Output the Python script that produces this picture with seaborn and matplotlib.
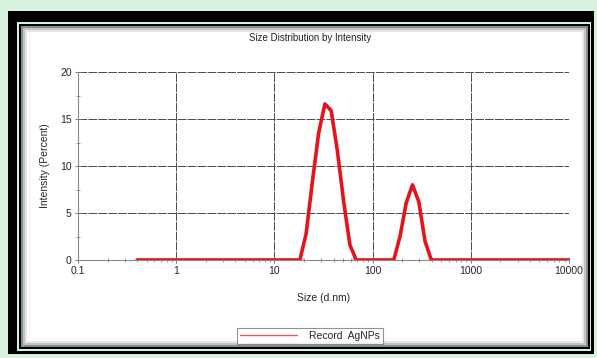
import matplotlib
matplotlib.use("Agg")
import matplotlib.pyplot as plt
import matplotlib.ticker as mticker
from matplotlib.patches import Rectangle
from matplotlib.lines import Line2D
import seaborn as sns
import pandas as pd

# --- data ---
size_nm = [0.4, 18.17, 21.04, 24.36, 28.21, 32.67, 37.84, 43.82, 50.75, 58.77,
           68.06, 164.2, 190.1, 220.2, 255.0, 295.3, 342.0, 396.1, 10000]
intensity = [0, 0, 2.8, 8.3, 13.5, 16.6, 15.9, 11.6, 6.2, 1.6,
             0, 0, 2.5, 6.1, 8.0, 6.2, 2.0, 0, 0]
x_ticks = [0.1, 1, 10, 100, 1000, 10000]
x_tick_labels = ["0.1", "1", "10", "100", "1000", "10000"]
y_ticks = [0, 5, 10, 15, 20]

sns.set_theme(style="white")
plt.rcParams['font.family'] = ['Liberation Sans', 'DejaVu Sans']

W, H = 597, 358
fig = plt.figure(figsize=(W / 100, H / 100), dpi=100)
fig.patch.set_facecolor('#d8f2df')


def box(x0, y0, x1, y1, color):
    # pixel box -> figure fraction, drawn behind the axes
    r = Rectangle((x0 / W, 1 - y1 / H), (x1 - x0) / W, (y1 - y0) / H,
                  transform=fig.transFigure, facecolor=color,
                  edgecolor='none', zorder=-10)
    fig.patches.append(r)


# screenshot frame
box(8, 11, 594, 354, 'black')
box(17, 22, 591, 351, '#d4f0de')
box(19, 24, 590, 349, 'black')
box(21, 26, 588, 347, '#8c8c8c')
box(23, 28, 586, 345, '#c4c4c4')
box(25, 30, 584, 343, '#e6e6e6')
box(27, 32, 582, 341, 'white')

ax = fig.add_axes([78 / W, 1 - 260 / H, (569 - 78) / W, (260 - 72) / H])
ax.set_zorder(5)
ax.set_facecolor('white')

df = pd.DataFrame({'Size': size_nm, 'Intensity': intensity})
sns.lineplot(data=df, x='Size', y='Intensity', ax=ax, color='#e3141b',
             linewidth=2.6, sort=False, estimator=None, legend=False)

ax.set_xscale('log')
ax.set_xlim(0.1, 10000)
ax.set_ylim(0, 20)
ax.set_xticks(x_ticks)
ax.set_xticklabels(x_tick_labels)
ax.set_yticks(y_ticks)
ax.xaxis.set_minor_locator(mticker.LogLocator(base=10, subs=range(2, 10)))
ax.xaxis.set_minor_formatter(mticker.NullFormatter())
ax.yaxis.set_minor_locator(mticker.MultipleLocator(2.5))

ax.tick_params(axis='both', which='major', direction='inout', length=5,
               width=0.7, color='#777777', labelsize=7.5, pad=2)
ax.tick_params(axis='both', which='minor', direction='inout', length=3,
               width=0.6, color='#888888')
ax.tick_params(axis='x', which='both', bottom=True)
ax.tick_params(axis='y', which='both', left=True)

ax.grid(True, which='major', color='#4a4a4a', linestyle=(0, (9, 1.2)),
        linewidth=0.7)
for s in ['top', 'right']:
    ax.spines[s].set_visible(False)
for s in ['left', 'bottom']:
    ax.spines[s].set_color('#888888')
    ax.spines[s].set_linewidth(0.8)

ax.set_xlabel('Size (d.nm)', fontsize=7.5)
ax.set_ylabel('Intensity (Percent)', fontsize=7.5)
ax.xaxis.set_label_coords(0.5, -0.175)
ax.yaxis.set_label_coords(-0.057, 0.5)

fig.text(310 / W, 1 - 38 / H, 'Size Distribution by Intensity', ha='center',
         va='center', fontsize=7, color='#222222')

handle = Line2D([], [], color='#e8585c', linewidth=1.0)
leg = fig.legend([handle], ['Record  AgNPs'], loc='center',
                 bbox_to_anchor=(310 / W, 1 - 336 / H), fontsize=7.5,
                 fancybox=False, frameon=True, handlelength=5.5,
                 borderpad=0.3, handletextpad=1.2)
leg.get_frame().set_edgecolor('#777777')
leg.get_frame().set_linewidth(0.8)
leg.get_frame().set_facecolor('white')

fig.savefig('out.png', dpi=100, facecolor=fig.get_facecolor())
